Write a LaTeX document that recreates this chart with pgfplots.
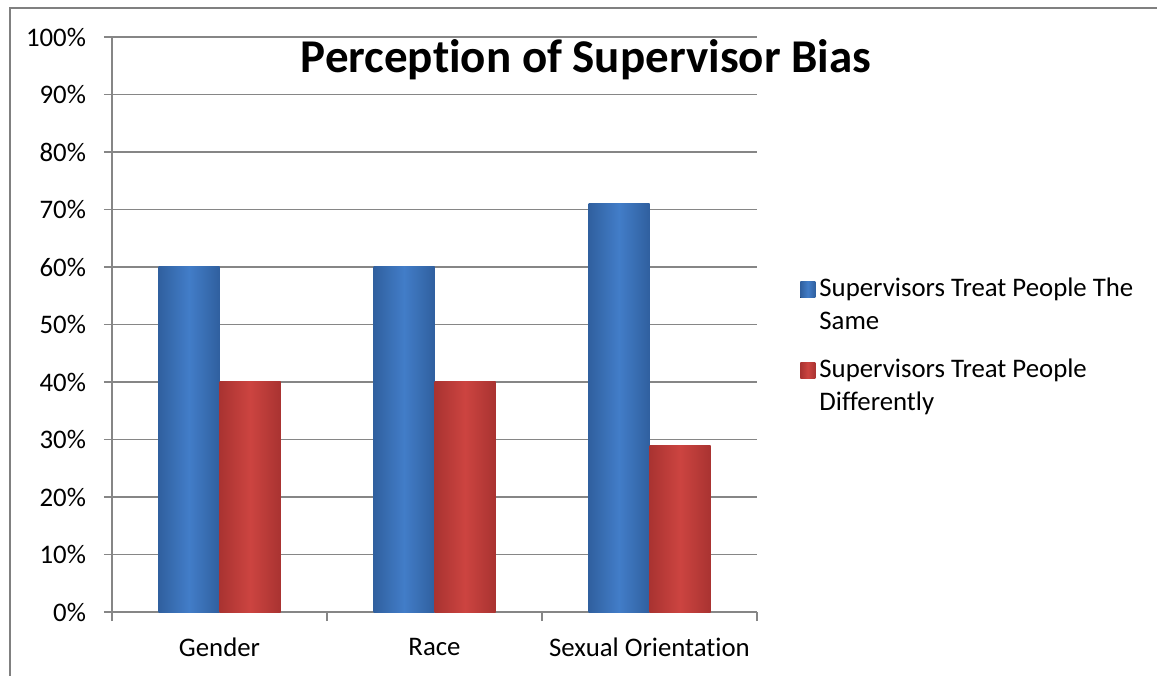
\documentclass[border=0pt]{standalone}
\usepackage{pgfplots}
\pgfplotsset{compat=1.18}
\usepackage{fontspec}
\setmainfont{Carlito}[Ligatures=NoCommon]
\definecolor{gridgray}{HTML}{868686}
\definecolor{framegray}{HTML}{808080}
\definecolor{blueside}{HTML}{30609F}
\definecolor{bluemid}{HTML}{427DC8}
\definecolor{redside}{HTML}{A93331}
\definecolor{redmid}{HTML}{CC4440}

\begin{document}
\begin{tikzpicture}[x=1pt,y=1pt]
\path[use as bounding box] (0,0) rectangle (578.5,337.5);
\begin{axis}[
  at={(56pt,31.5pt)}, anchor=south west,
  scale only axis, width=322.5pt, height=287.5pt,
  xmin=-0.5, xmax=2.5, ymin=0, ymax=100,
  axis lines*=left,
  axis line style={gridgray, line width=0.75pt},
  ymajorgrids, grid style={gridgray, line width=0.75pt},
  ytick={0,10,...,100},
  /pgf/number format/assume math mode=true,
  yticklabel={\pgfmathprintnumber{\tick}\%},
  yticklabel style={xshift=-5.5pt},
  xtick={0,1,2}, xticklabels={Gender,Race,Sexual Orientation},
  xticklabel style={yshift=-5.5pt},
  minor xtick={-0.5,0.5,1.5,2.5},
  tick align=outside,
  major tick length=4pt, minor tick length=4.5pt,
  major x tick style={draw=none},
  minor x tick style={gridgray, line width=0.75pt},
  y tick style={gridgray, line width=0.75pt},
  tick label style={font=\fontsize{13.4}{16}\selectfont},
  ybar=0pt, bar width=30.5pt,
  legend style={at={(1.0667,0.588)}, anchor=north west, draw=none, fill=none,
    inner sep=0pt, row sep=25.5pt, font=\fontsize{13.4}{16.5}\selectfont,
    cells={anchor=base west}},
  legend image code/.code={\fill[#1] (0pt,-0.3pt) rectangle (7.5pt,7.5pt);},
]
% Supervisors Treat People The Same
\addplot[draw=none, bar shift=-15.25pt, left color=blueside, right color=blueside, middle color=bluemid] coordinates {(0,60)};
\addlegendentry{\vtop{\baselineskip=16.5pt\hbox{Supervisors Treat People The}\hbox{Same}}}
% Supervisors Treat People Differently
\addplot[draw=none, bar shift=15.25pt, left color=redside, right color=redside, middle color=redmid] coordinates {(0,40)};
\addlegendentry{\vtop{\baselineskip=16.5pt\hbox{Supervisors Treat People}\hbox{Differently}}}
\addplot[forget plot, draw=none, bar shift=-15.25pt, left color=blueside, right color=blueside, middle color=bluemid] coordinates {(1,60)};
\addplot[forget plot, draw=none, bar shift=15.25pt, left color=redside, right color=redside, middle color=redmid] coordinates {(1,40)};
\addplot[forget plot, draw=none, bar shift=-15.25pt, left color=blueside, right color=blueside, middle color=bluemid] coordinates {(2,71)};
\addplot[forget plot, draw=none, bar shift=15.25pt, left color=redside, right color=redside, middle color=redmid] coordinates {(2,29)};
\end{axis}
\node[anchor=base, font=\bfseries\fontsize{23.5}{28}\selectfont] at (293,301) {Perception of Supervisor Bias};
\fill[framegray] (4.5,-1) rectangle (5.5,334);
\fill[framegray] (4.5,333) rectangle (580,334);
\end{tikzpicture}
\end{document}
